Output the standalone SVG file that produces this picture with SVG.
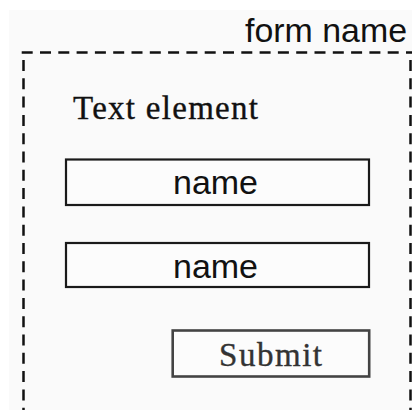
<svg xmlns="http://www.w3.org/2000/svg" width="412" height="412" viewBox="0 0 412 412">
  <style>
    .dash { stroke: #111; stroke-width: 2.5; stroke-dasharray: 11 7.3; fill: none; }
    .box { fill: #fcfcfc; stroke: #1a1a1a; stroke-width: 2.2; }
    .btn { fill: #fcfcfc; stroke: #444; stroke-width: 2.6; }
    .sans { font-family: "Liberation Sans", Arial, sans-serif; font-size: 34px; fill: #111; }
    .serif { font-family: "Liberation Serif", "Times New Roman", serif; font-size: 33px; fill: #111; stroke: #111; stroke-width: 0.35; }
  </style>
  <rect x="0" y="0" width="412" height="412" fill="#ffffff"/>
  <rect x="9" y="10" width="403" height="400" fill="#fafafa"/>
  <g id="form">
    <line class="dash" x1="21.7" y1="52.5" x2="412" y2="52.5"/>
    <line class="dash" x1="23.5" y1="60" x2="23.5" y2="410"/>
    <line class="dash" x1="410.5" y1="60" x2="410.5" y2="410"/>
    <text class="sans" x="245" y="42" textLength="162" lengthAdjust="spacingAndGlyphs">form name</text>
  </g>
  <g id="text-element">
    <text class="serif" x="73" y="119" textLength="185" lengthAdjust="spacing">Text element</text>
  </g>
  <g id="field1">
    <rect class="box" x="66" y="159.5" width="303" height="45.5"/>
    <text class="sans" x="215.5" y="194" text-anchor="middle">name</text>
  </g>
  <g id="field2">
    <rect class="box" x="66" y="243" width="303" height="44"/>
    <text class="sans" x="215.5" y="277.5" text-anchor="middle">name</text>
  </g>
  <g id="submit">
    <rect class="btn" x="172.7" y="330.5" width="196.5" height="46"/>
    <text class="serif" x="219" y="365.5" textLength="103" lengthAdjust="spacing" style="fill:#333;stroke:#333">Submit</text>
  </g>
</svg>
